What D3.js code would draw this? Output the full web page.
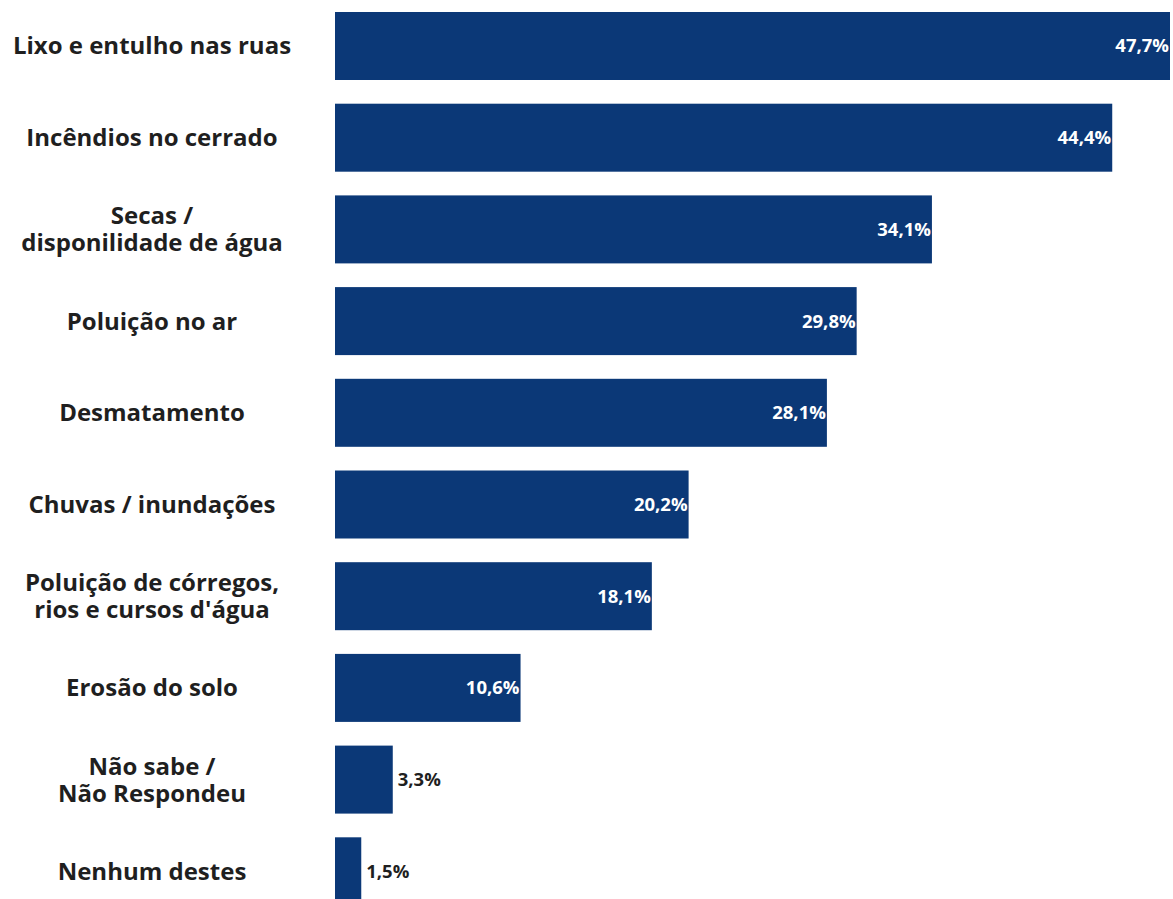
<!DOCTYPE html>
<html>
<head>
<meta charset="utf-8">
<script src="https://cdn.jsdelivr.net/npm/d3@7"></script>
<style>
  html, body { margin: 0; padding: 0; background: #ffffff; }
  svg { display: block; }
</style>
</head>
<body>
<svg id="chart" width="1173" height="899"></svg>
<script>
// Problemas ambientais citados (%)
const categories = [
  "Lixo e entulho nas ruas",
  "Incêndios no cerrado",
  "Secas /\ndisponilidade de água",
  "Poluição no ar",
  "Desmatamento",
  "Chuvas / inundações",
  "Poluição de córregos,\nrios e cursos d'água",
  "Erosão do solo",
  "Não sabe /\nNão Respondeu",
  "Nenhum destes"
];
const values = [47.7, 44.4, 34.1, 29.8, 28.1, 20.2, 18.1, 10.6, 3.3, 1.5];
const valueLabels = ["47,7%", "44,4%", "34,1%", "29,8%", "28,1%", "20,2%", "18,1%", "10,6%", "3,3%", "1,5%"];

const data = categories.map((c, i) => ({ cat: c, value: values[i], label: valueLabels[i] }));

const svg = d3.select("#chart");
const barColor = "#0b3877";
const textColor = "#1f1f1f";
const fontFamily = "'Open Sans', 'Noto Sans', sans-serif";

const x = d3.scaleLinear().domain([0, 47.7]).range([335, 1170]);
const y = d3.scaleBand().domain(categories).range([12, 905.3]).paddingInner(0.2585).paddingOuter(0);

// bars
svg.append("g").selectAll("rect").data(data).join("rect")
  .attr("x", x(0))
  .attr("y", d => y(d.cat))
  .attr("width", d => x(d.value) - x(0))
  .attr("height", y.bandwidth())
  .attr("fill", barColor);

// category labels, centred in the left column
const lineH = 27;
const labels = svg.append("g").selectAll("text").data(data).join("text")
  .attr("x", 152)
  .attr("text-anchor", "middle")
  .attr("font-family", fontFamily)
  .attr("font-weight", 700)
  .attr("font-size", 24)
  .attr("fill", textColor);
labels.each(function(d) {
  const lines = d.cat.split("\n");
  const cy = y(d.cat) + y.bandwidth() / 2;
  const first = cy - (lines.length - 1) * lineH / 2 + 8.5;
  d3.select(this).selectAll("tspan").data(lines).join("tspan")
    .attr("x", 152)
    .attr("y", (l, i) => first + i * lineH)
    .text(l => l);
});

// value labels: inside the bar end when it fits, otherwise just outside
const inside = d => (x(d.value) - x(0)) > 80;
svg.append("g").selectAll("text").data(data).join("text")
  .attr("x", d => inside(d) ? x(d.value) - 1 : x(d.value) + 5)
  .attr("y", d => y(d.cat) + y.bandwidth() / 2 + 6.5)
  .attr("text-anchor", d => inside(d) ? "end" : "start")
  .attr("font-family", fontFamily)
  .attr("font-weight", 700)
  .attr("font-size", 18.5)
  .attr("fill", d => inside(d) ? "#ffffff" : textColor)
  .text(d => d.label);
</script>
</body>
</html>
